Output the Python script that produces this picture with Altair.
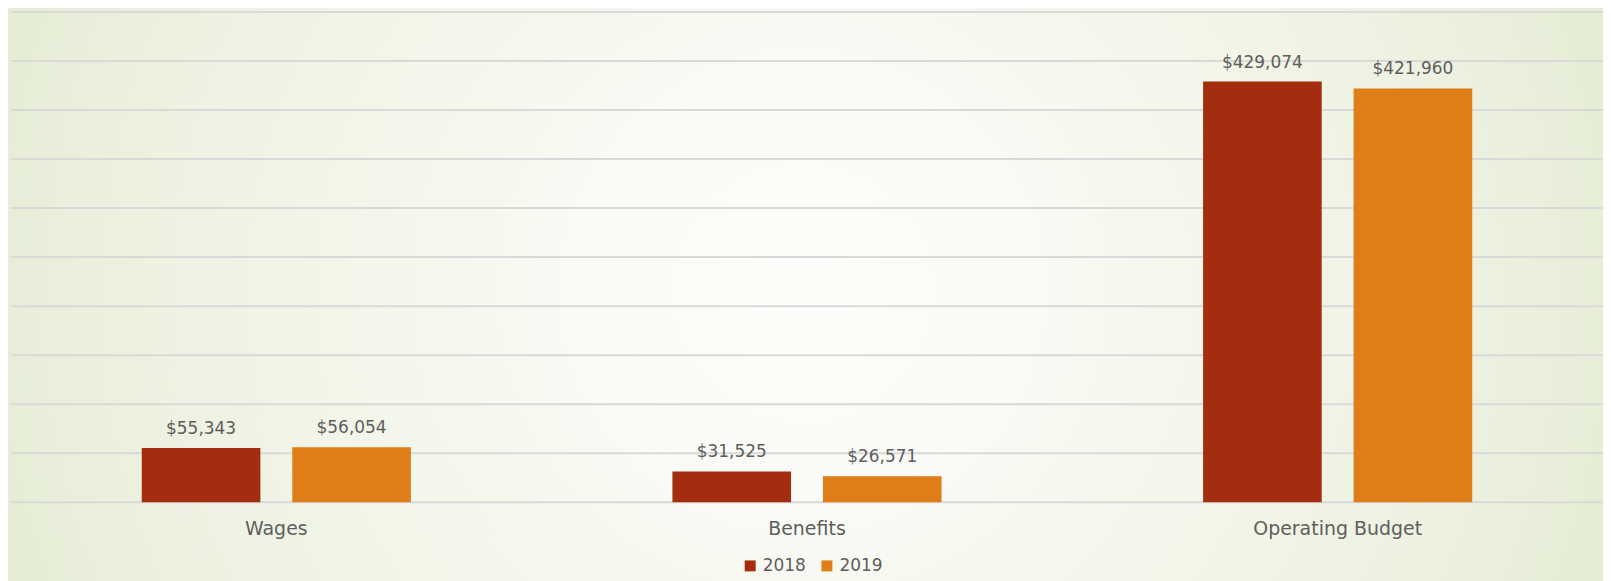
import altair as alt
import pandas as pd

categories = ["Wages", "Benefits", "Operating Budget"]
years = ["2018", "2019"]
values_2018 = [55343, 31525, 429074]
values_2019 = [56054, 26571, 421960]
colors = ["#A42D0F", "#DF7D19"]
grid_values = [0, 50000, 100000, 150000, 200000, 250000, 300000, 350000, 400000, 450000, 500000]

rows = []
for c, a, b in zip(categories, values_2018, values_2019):
    rows.append({"category": c, "year": "2018", "value": a})
    rows.append({"category": c, "year": "2019", "value": b})
df = pd.DataFrame(rows)
grid_df = pd.DataFrame({"value": grid_values})

W, H = 1597, 492
FONT = "DejaVu Sans"
TXT = "#5e5e5e"

gradient = alt.RadialGradient(
    gradient="radial",
    x1=0.5, y1=0.5, r1=0,
    x2=0.5, y2=0.5, r2=0.55,
    stops=[
        alt.GradientStop(offset=0, color="#fdfdfb"),
        alt.GradientStop(offset=0.22, color="#fafbf6"),
        alt.GradientStop(offset=0.55, color="#f2f5e8"),
        alt.GradientStop(offset=0.82, color="#ebf0de"),
        alt.GradientStop(offset=1, color="#e3ebd0"),
    ],
)

bg = alt.Chart(pd.DataFrame({"k": [0]})).mark_rect(fill=gradient, strokeWidth=0).encode(
    x=alt.value(-11), x2=alt.value(1600), y=alt.value(-526), y2=alt.value(1085)
)

yscale = alt.Scale(domain=[0, 500000])

grid = alt.Chart(grid_df).mark_rule(color="#d9d9d9", strokeWidth=2).encode(
    y=alt.Y("value:Q", scale=yscale, axis=None)
)

base = alt.Chart(df).encode(
    x=alt.X(
        "category:N",
        sort=categories,
        scale=alt.Scale(paddingInner=0, paddingOuter=0),
        axis=alt.Axis(
            title=None, domain=False, ticks=False, tickSize=0, labelAngle=0,
            labelFont=FONT, labelFontSize=19, labelColor=TXT,
            labelPadding=32, labelBaseline="alphabetic", grid=False, zindex=2,
        ),
    ),
    xOffset=alt.XOffset("year:N", sort=years,
                        scale=alt.Scale(paddingInner=0.2119, paddingOuter=0.8687)),
    y=alt.Y("value:Q", scale=yscale, axis=None),
)

bars = base.mark_bar().encode(
    color=alt.Color(
        "year:N",
        sort=years,
        scale=alt.Scale(domain=years, range=colors),
        legend=alt.Legend(
            title=None, orient="none", direction="horizontal",
            legendX=733, legendY=547, padding=0, zindex=2,
            symbolType="square", symbolSize=121, symbolStrokeWidth=0,
            labelFont=FONT, labelFontSize=17, labelColor=TXT,
            labelOffset=4, columnPadding=12,
        ),
    )
)

labels = base.mark_text(baseline="alphabetic", dy=-14, font=FONT, fontSize=17, color=TXT).encode(
    text=alt.Text("value:Q", format="$,.0f")
)

chart = alt.layer(bg, grid, bars, labels).properties(
    width=W, height=H,
    autosize=alt.AutoSizeParams(type="none"),
    padding={"left": 3, "top": 3, "right": 0, "bottom": 78},
    background="#e6eed6",
).configure_view(stroke=None)

chart.save("out.html", embed_options={"renderer": "svg", "actions": False})
